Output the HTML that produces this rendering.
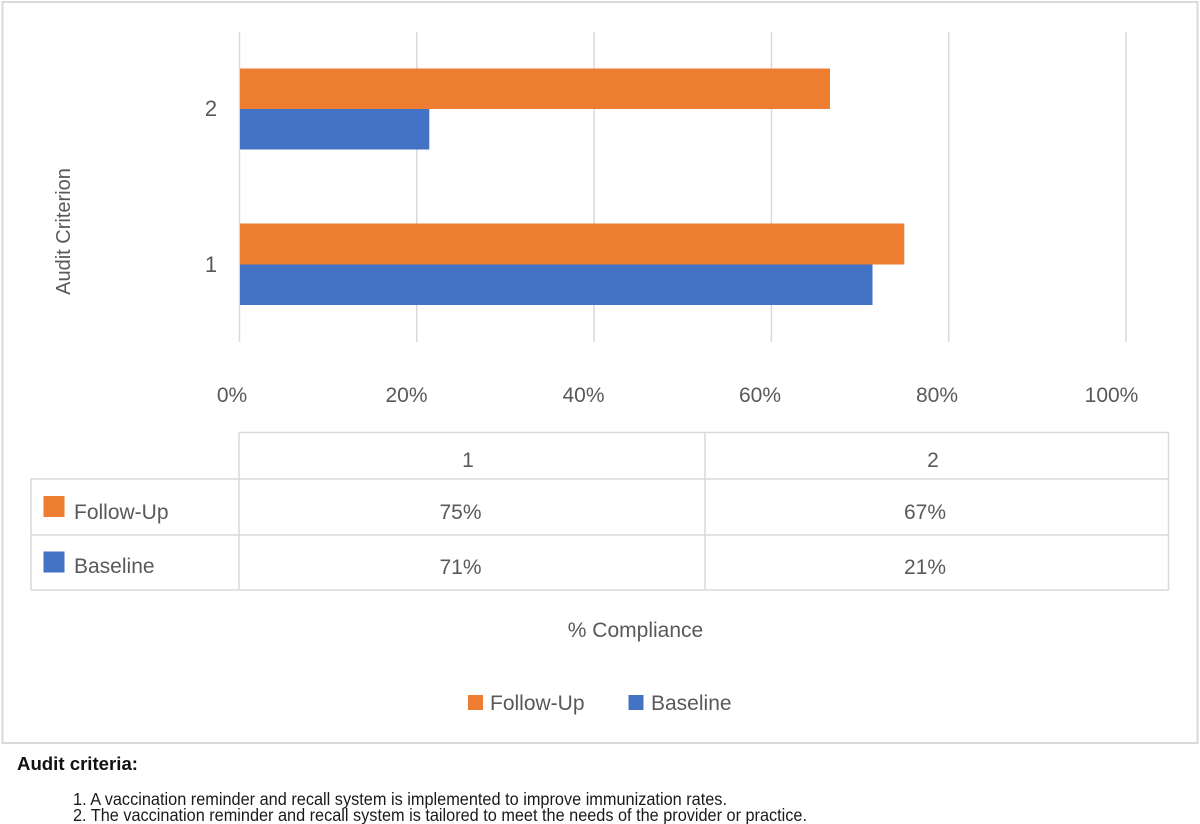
<!DOCTYPE html>
<html>
<head>
<meta charset="utf-8">
<style>
html,body{margin:0;padding:0;background:#fff;}
svg{display:block;}
text{font-family:"Liberation Sans",Arial,sans-serif;}
</style>
</head>
<body>
<svg width="1200" height="824" viewBox="0 0 1200 824" xmlns="http://www.w3.org/2000/svg">
  <rect x="0" y="0" width="1200" height="824" fill="#ffffff"/>
  <!-- outer chart border -->
  <rect x="2.5" y="2" width="1195" height="741" fill="none" stroke="#d9d9d9" stroke-width="2"/>

  <!-- gridlines -->
  <g stroke="#d9d9d9" stroke-width="1.5">
    <line x1="239.5" y1="32" x2="239.5" y2="342"/>
    <line x1="416.8" y1="32" x2="416.8" y2="342"/>
    <line x1="594.1" y1="32" x2="594.1" y2="342"/>
    <line x1="771.4" y1="32" x2="771.4" y2="342"/>
    <line x1="948.7" y1="32" x2="948.7" y2="342"/>
    <line x1="1126" y1="32" x2="1126" y2="342"/>
  </g>

  <!-- bars -->
  <rect x="240" y="68.5" width="590" height="40.5" fill="#ED7D31"/>
  <rect x="240" y="109" width="189.3" height="40.5" fill="#4472C4"/>
  <rect x="240" y="223.5" width="664.3" height="41" fill="#ED7D31"/>
  <rect x="240" y="264.5" width="632.5" height="40.5" fill="#4472C4"/>

  <g fill="#595959">
    <!-- category labels -->
    <text x="211" y="116" font-size="22" text-anchor="middle">2</text>
    <text x="211" y="272" font-size="22" text-anchor="middle">1</text>
    <!-- y axis title -->
    <text transform="translate(70,231.5) rotate(-90)" font-size="20" text-anchor="middle">Audit Criterion</text>
    <!-- x tick labels -->
    <g font-size="21" text-anchor="middle">
      <text x="232" y="402">0%</text>
      <text x="406.5" y="402">20%</text>
      <text x="583.5" y="402">40%</text>
      <text x="760" y="402">60%</text>
      <text x="937" y="402">80%</text>
      <text x="1111.5" y="402">100%</text>
    </g>
  </g>

  <!-- data table -->
  <g stroke="#d9d9d9" stroke-width="1.5" fill="none">
    <line x1="239" y1="432.5" x2="1168.5" y2="432.5"/>
    <line x1="31" y1="479" x2="1168.5" y2="479"/>
    <line x1="31" y1="535" x2="1168.5" y2="535"/>
    <line x1="31" y1="590" x2="1168.5" y2="590"/>
    <line x1="31" y1="479" x2="31" y2="590"/>
    <line x1="239" y1="432.5" x2="239" y2="590"/>
    <line x1="705" y1="432.5" x2="705" y2="590"/>
    <line x1="1168.5" y1="432.5" x2="1168.5" y2="590"/>
  </g>
  <rect x="43.5" y="496" width="21" height="21" fill="#ED7D31"/>
  <rect x="43.5" y="551.5" width="21" height="21" fill="#4472C4"/>
  <g fill="#595959" font-size="21">
    <text x="74" y="519">Follow-Up</text>
    <text x="74" y="573">Baseline</text>
    <g text-anchor="middle">
      <text x="468" y="467">1</text>
      <text x="933" y="467">2</text>
      <text x="460.5" y="519">75%</text>
      <text x="925" y="519">67%</text>
      <text x="460.5" y="574">71%</text>
      <text x="925" y="574">21%</text>
    </g>
    <!-- x axis title -->
    <text x="635.5" y="637" text-anchor="middle">% Compliance</text>
    <!-- legend -->
    <rect x="468" y="695" width="15" height="15" fill="#ED7D31"/>
    <text x="490" y="710">Follow-Up</text>
    <rect x="628.5" y="695" width="15" height="15" fill="#4472C4"/>
    <text x="651" y="710">Baseline</text>
  </g>

  <!-- footer -->
  <text x="17" y="770" font-size="18" font-weight="bold" fill="#111" textLength="121" lengthAdjust="spacingAndGlyphs">Audit criteria:</text>
  <g font-size="17.2" fill="#1a1a1a">
    <text x="73" y="805" textLength="654" lengthAdjust="spacingAndGlyphs">1. A vaccination reminder and recall system is implemented to improve immunization rates.</text>
    <text x="73" y="821" textLength="734" lengthAdjust="spacingAndGlyphs">2. The vaccination reminder and recall system is tailored to meet the needs of the provider or practice.</text>
  </g>
</svg>
</body>
</html>
